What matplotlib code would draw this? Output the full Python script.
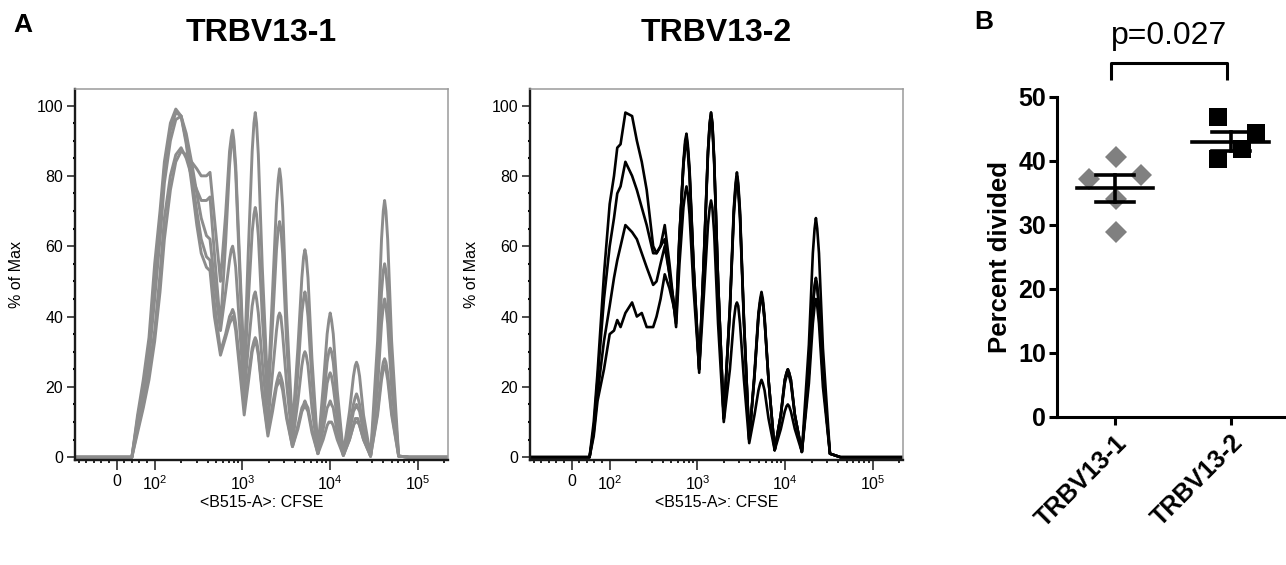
import matplotlib
matplotlib.use("Agg")
import matplotlib.pyplot as plt
import numpy as np

plt.rcParams['font.family'] = ['Liberation Sans', 'DejaVu Sans']
plt.rcParams['mathtext.fontset'] = 'custom'
plt.rcParams['mathtext.rm'] = 'Liberation Sans'
plt.rcParams['mathtext.it'] = 'Liberation Sans:italic'
plt.rcParams['mathtext.bf'] = 'Liberation Sans:bold'
plt.rcParams['mathtext.default'] = 'regular'

# ---------------- data: CFSE histograms (% of max) ----------------
# TRBV13-1 (grey), x = CFSE intensity; one row per division peak + trough
cfse_13_1 = [-110, 40, 55, 70, 85, 100, 115, 129, 151, 174, 200, 229, 263, 302, 339, 389, 427, 479, 562,
             643, 713, 746, 773, 800, 838, 929, 1047,
             1164, 1291, 1352, 1400, 1449, 1517, 1683, 1950,
             2203, 2443, 2559, 2649, 2742, 2871, 3184, 3715,
             4285, 4753, 4977, 5152, 5333, 5585, 6194, 7244,
             8318, 9226, 9661, 10000, 10351, 10839, 12023, 14125,
             16596, 18408, 19275, 19953, 20654, 21627, 23988, 28840,
             34674, 38459, 40272, 41687, 43152, 45186, 50119, 60256, 79433, 262144]
hist_13_1 = [
    [0, 0, 7, 14, 22, 33, 47, 62, 76, 84, 87, 86, 84, 82, 80, 80, 81, 68, 50,
     69, 87, 91, 93, 90, 83, 56, 25,
     58, 87, 95, 98, 95, 86, 54, 18,
     47, 72, 79, 82, 79, 71, 41, 8,
     31, 51, 57, 59, 57, 51, 28, 2,
     20, 35, 39, 41, 39, 35, 19, 1,
     13, 23, 26, 27, 26, 23, 12, 0.3,
     33, 62, 70, 73, 70, 62, 33, 0.3, 0, 0],
    [0, 0, 8, 15, 24, 36, 52, 68, 80, 86, 88, 85, 80, 76, 73, 73, 74, 58, 37,
     61, 83, 89, 91, 88, 81, 53, 22,
     44, 64, 69, 71, 69, 63, 40, 15,
     38, 59, 65, 67, 65, 58, 33, 6,
     24, 41, 45, 47, 45, 40, 22, 2,
     15, 27, 30, 31, 30, 27, 15, 1,
     9, 15, 17, 18, 17, 15, 8, 0.3,
     25, 47, 53, 55, 53, 47, 25, 0.3, 0, 0],
    [0, 0, 10, 18, 28, 45, 62, 78, 90, 96, 97, 92, 84, 75, 68, 63, 62, 50, 36,
     47, 56, 59, 60, 58, 54, 37, 18,
     31, 43, 46, 47, 45, 41, 27, 10,
     24, 36, 40, 41, 40, 35, 21, 4,
     16, 26, 29, 30, 29, 26, 14, 1,
     11, 21, 23, 24, 23, 20, 11, 0.5,
     7, 13, 14, 15, 14, 13, 7, 0.3,
     20, 38, 43, 45, 43, 38, 20, 0.3, 0, 0],
    [0, 0, 11, 20, 31, 50, 66, 82, 93, 98, 97, 90, 80, 70, 62, 57, 56, 44, 30,
     35, 40, 41, 42, 41, 38, 27, 14,
     23, 31, 33, 34, 33, 30, 19, 7,
     15, 21, 23, 24, 23, 21, 12, 3,
     9, 14, 15, 16, 15, 14, 8, 1,
     8, 14, 15, 16, 15, 14, 7, 0.5,
     5, 9, 11, 11, 11, 9, 5, 0.3,
     13, 24, 27, 28, 27, 24, 13, 0.3, 0, 0],
    [0, 0, 12, 22, 34, 55, 70, 84, 95, 99, 97, 89, 78, 66, 58, 54, 53, 40, 29,
     34, 38, 39, 40, 39, 36, 25, 12,
     21, 30, 32, 33, 32, 29, 18, 6,
     13, 20, 21, 22, 21, 19, 11, 3,
     8, 13, 14, 15, 14, 13, 7, 1,
     5, 9, 10, 10, 10, 9, 5, 0.5,
     5, 9, 10, 10, 10, 9, 5, 0.3,
     12, 22, 25, 26, 25, 22, 12, 0.3, 0, 0],
]

# TRBV13-2 (black)
cfse_13_2 = [-110, 47, 58, 68, 85, 100, 112, 122, 133, 151, 180, 204, 232, 264, 313, 342, 380, 424, 480, 571,
             624, 692, 724, 750, 776, 813, 902, 1047,
             1189, 1318, 1380, 1429, 1479, 1549, 1718, 1995,
             2344, 2600, 2723, 2818, 2917, 3055, 3388, 3890,
             4467, 4955, 5188, 5370, 5559, 5821, 6457, 7586,
             8913, 9886, 10351, 10715, 11092, 11614, 12882, 15488,
             18621, 20654, 21627, 22387, 23174, 24266, 26915, 32359, 42658, 262144]
hist_13_2 = [
    [0, 0, 10, 24, 52, 72, 80, 88, 89, 98, 97, 90, 84, 76, 60, 58, 60, 66, 55, 37,
     55, 71, 75, 77, 75, 69, 48, 25,
     47, 66, 71, 73, 71, 64, 38, 10,
     25, 39, 43, 44, 43, 38, 22, 4,
     12, 19, 21, 22, 21, 19, 11, 2,
     8, 13, 14.5, 15, 14.5, 13, 8, 1.5,
     21, 38, 43, 45, 43, 38, 20, 1, 0, 0],
    [0, 0, 8, 22, 45, 60, 68, 75, 77, 84, 80, 76, 71, 66, 58, 58, 60, 62, 52, 38,
     62, 84, 90, 92, 89, 82, 55, 25,
     58, 87, 95, 98, 95, 85, 50, 11,
     43, 71, 78, 81, 78, 70, 39, 5,
     24, 41, 45, 47, 45, 40, 22, 2,
     12, 22, 24, 25, 24, 22, 12, 1.5,
     24, 44, 49, 51, 49, 43, 23, 1, 0, 0],
    [0, 0, 7, 18, 33, 43, 51, 56, 60, 66, 64, 62, 58, 54, 49, 50, 55, 60, 52, 40,
     63, 83, 89, 91, 88, 81, 55, 25,
     58, 87, 95, 98, 95, 85, 50, 11,
     42, 70, 77, 80, 77, 69, 39, 5,
     23, 40, 44, 46, 44, 39, 22, 2,
     12, 22, 24, 25, 24, 22, 12, 1.5,
     24, 43, 48, 50, 48, 43, 23, 1, 0, 0],
    [0, 0, 6, 16, 25, 35, 36, 39, 37, 41, 44, 40, 41, 37, 37, 40, 45, 52, 48, 40,
     63, 83, 88, 90, 87, 80, 54, 24,
     57, 86, 94, 97, 94, 84, 50, 11,
     42, 69, 76, 79, 76, 68, 38, 5,
     23, 40, 44, 46, 44, 39, 22, 2,
     12, 21, 23, 24, 23, 21, 12, 1.5,
     32, 58, 65, 68, 65, 58, 31, 1, 0, 0],
]

# ---------------- data: percent divided ----------------
groups = ['TRBV13-1', 'TRBV13-2']
pct_13_1 = [40.6, 37.2, 37.8, 34.0, 28.9]
pct_13_2 = [46.8, 44.3, 41.8, 40.2]
group_means = [35.7, 43.0]
group_sems = [2.1, 1.55]
p_text = 'p=0.027'

# horizontal spread of the dots within each column
jitter_13_1 = [0.01, -0.22, 0.23, 0.01, 0.01]
jitter_13_2 = [-0.11, 0.22, 0.10, -0.11]

W, H = 1286, 565
fig = plt.figure(figsize=(W / 100, H / 100), dpi=100)


def hist_axes(left_px, xs, curves, color, lw, title):
    ax = fig.add_axes([left_px / W, 1 - 460 / H, 373 / W, 371 / H])
    for ys in curves:
        ax.plot(xs, ys, color=color, lw=lw, solid_joinstyle='round')
    ax.set_xscale('symlog', linthresh=100, linscale=0.39, base=10)
    ax.set_xlim(-110, 220000)
    ax.set_ylim(-0.8, 104.7)
    ax.set_xticks([0, 1e2, 1e3, 1e4, 1e5])
    ax.set_xticklabels(['0', '10$^2$', '10$^3$', '10$^4$', '10$^5$'])
    minor_x = [-100, -80, -60, -40, -20, 20, 40, 60, 80]
    minor_x += [k * 10 ** e for e in (2, 3, 4) for k in range(2, 10)] + [2e5]
    ax.set_xticks(minor_x, minor=True)
    ax.set_yticks(range(0, 101, 20))
    ax.set_yticks(range(0, 101, 5), minor=True)
    ax.tick_params(axis='both', which='major', labelsize=11.5, width=1.1, color='#1a1a1a')
    ax.tick_params(axis='x', which='major', length=7, pad=3)
    ax.tick_params(axis='y', which='major', length=5.5, pad=3)
    ax.tick_params(axis='x', which='minor', length=2.5, width=1.2)
    ax.tick_params(axis='y', which='minor', length=1.5, width=1.5)
    for s in ('left', 'bottom'):
        ax.spines[s].set_color('#1a1a1a')
        ax.spines[s].set_linewidth(1.7)
    for s in ('top', 'right'):
        ax.spines[s].set_color('#9a9a9a')
        ax.spines[s].set_linewidth(1.1)
    ax.set_xlabel('<B515-A>: CFSE', fontsize=11.5, labelpad=2)
    ax.set_ylabel('% of Max', fontsize=11.5, labelpad=9)
    fig.text((left_px + 186.5) / W, 1 - 33 / H, title, fontsize=23,
             fontweight='bold', ha='center', va='center')
    return ax


hist_axes(75, cfse_13_1, hist_13_1, '#8c8c8c', 2.1, 'TRBV13-1')
hist_axes(530, cfse_13_2, hist_13_2, '#000000', 1.9, 'TRBV13-2')

# ---------------- panel B ----------------
axb = fig.add_axes([1057 / W, 1 - 416.7 / H, 228 / W, 320 / H])
x_pos = np.arange(len(groups))
axb.plot(x_pos[0] + np.array(jitter_13_1), pct_13_1, 'D', color='#808080',
         markersize=11, markeredgewidth=0, clip_on=False, zorder=2)
axb.plot(x_pos[1] + np.array(jitter_13_2), pct_13_2, 's', color='black',
         markersize=13, markeredgewidth=0, clip_on=False, zorder=2)
for xc, m, se in zip(x_pos, group_means, group_sems):
    axb.plot([xc - 0.33, xc + 0.33], [m, m], color='black', lw=2.6, zorder=3)
    axb.plot([xc, xc], [m - se, m + se], color='black', lw=2.6, zorder=3)
    for yv in (m - se, m + se):
        axb.plot([xc - 0.165, xc + 0.165], [yv, yv], color='black', lw=2.6, zorder=3)

axb.set_xlim(-0.5, 1.47)
axb.set_ylim(0, 50)
axb.set_yticks(range(0, 51, 10))
axb.set_xticks(x_pos)
axb.set_xticklabels(groups, rotation=45, ha='right', rotation_mode='anchor',
                    fontsize=18, fontweight='bold')
for lab in axb.get_yticklabels():
    lab.set_fontweight('bold')
axb.tick_params(axis='y', labelsize=18, length=6, width=2.2, pad=2)
axb.tick_params(axis='x', length=6, width=2.2, pad=4)
axb.spines['top'].set_visible(False)
axb.spines['right'].set_visible(False)
for s in ('left', 'bottom'):
    axb.spines[s].set_linewidth(2.2)
axb.set_ylabel('Percent divided', fontsize=18.5, fontweight='bold', labelpad=4)

# significance bracket
axb.plot([-0.03, -0.03, 0.97, 0.97], [52.6, 55.2, 55.2, 52.6], color='black',
         lw=2.2, clip_on=False, solid_capstyle='butt')
axb.text(0.47, 58.2, p_text, fontsize=23, ha='center', va='baseline')

# panel letters
fig.text(23 / W, 1 - 25 / H, 'A', fontsize=19, fontweight='bold', ha='center', va='center')
fig.text(984 / W, 1 - 22 / H, 'B', fontsize=19, fontweight='bold', ha='center', va='center')

fig.savefig('out.png', dpi=100)
